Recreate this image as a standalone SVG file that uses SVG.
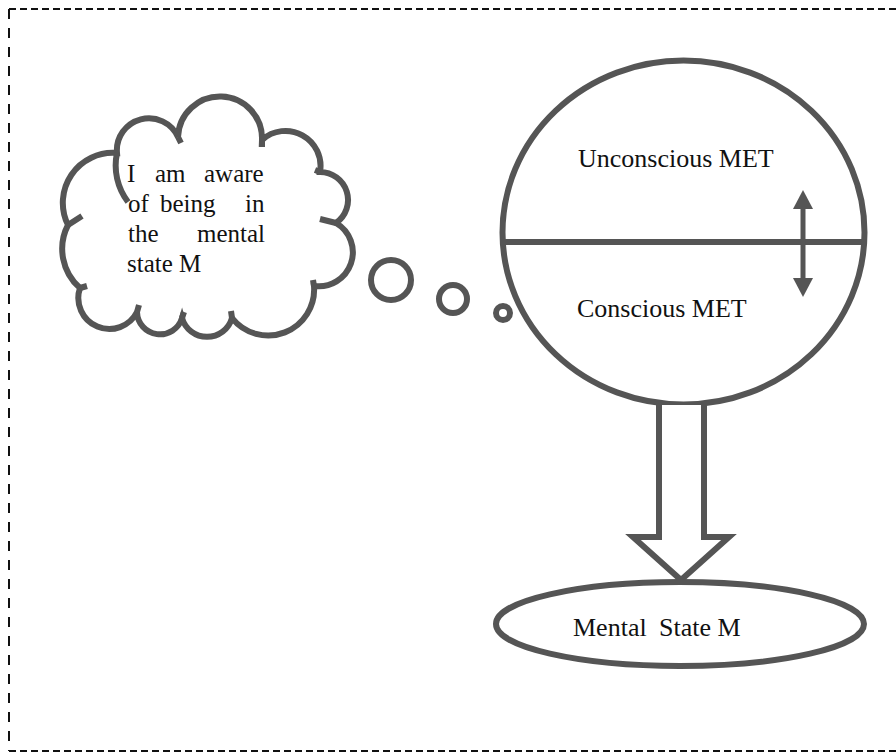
<svg xmlns="http://www.w3.org/2000/svg" width="896" height="755" viewBox="0 0 896 755">
<style>
.s{fill:#fff;stroke:#555;stroke-width:6}
.o{fill:none;stroke:#555;stroke-width:6}
.b{fill:none;stroke:#111;stroke-width:2}
.t{font-family:"Liberation Serif","Times New Roman",serif;font-size:26px;fill:#111}
.c{font-family:"Liberation Serif","Times New Roman",serif;font-size:25px;fill:#111}
</style>
<rect width="896" height="755" fill="#fff"/>
<g id="frame">
<line class="b" x1="9" y1="9" x2="896" y2="9" stroke-dasharray="7 4"/>
<line class="b" x1="9" y1="751" x2="896" y2="751" stroke-dasharray="7 4"/>
<line class="b" x1="9" y1="9" x2="9" y2="751" stroke-dasharray="10 9"/>
</g>
<g id="cloud">
<path class="s" d="M68 225 A50 50 0 0 1 117 153 A32 32 0 0 1 178 137 A42 42 0 0 1 262 140 A35 35 0 0 1 320 172 A28 28 0 0 1 336 223 A34 34 0 0 1 314 286 A46 46 0 0 1 232 318 A26 26 0 0 1 182 318 A23 23 0 0 1 137 312 A31 31 0 0 1 80 288 A52 52 0 0 1 68 225 Z"/>
<path class="o" d="M117 153 A60 60 0 0 0 128 202 M178 137 L181 143 M262 140 L262 147 M320 172 L315 170 M336 223 L320 219 M314 286 L313 280 M232 318 L231 311 M182 318 L184 312 M137 312 L139 305 M80 288 L87 286 M68 225 L82 216"/>
<text class="c"><tspan x="127" y="182">I</tspan><tspan x="155" y="182">am</tspan><tspan x="204" y="182">aware</tspan><tspan x="128" y="212">of</tspan><tspan x="160" y="212">being</tspan><tspan x="245" y="212">in</tspan><tspan x="128" y="242">the</tspan><tspan x="197" y="242">mental</tspan><tspan x="127" y="272">state M</tspan></text>
</g>
<g id="bubbles">
<circle class="o" cx="391" cy="280" r="20"/>
<circle class="o" cx="453" cy="299" r="14"/>
<circle class="o" cx="503" cy="313" r="7"/>
</g>
<g id="met">
<ellipse class="s" cx="683.5" cy="232.5" rx="181" ry="172"/>
<line class="o" x1="502" y1="242" x2="865" y2="242"/>
<text class="t" x="578" y="167">Unconscious MET</text>
<text class="t" x="577" y="317">Conscious MET</text>
</g>
<g id="connectors">
<line x1="803" y1="206" x2="803" y2="281" stroke="#555" stroke-width="5"/>
<polygon points="803,190 793,209 813,209" fill="#555"/>
<polygon points="803,297 793,278 813,278" fill="#555"/>
<path class="s" stroke-linejoin="miter" d="M659 405 L659 537 L633 537 L681 580 L729 537 L704 537 L704 405"/>
</g>
<g id="state">
<ellipse class="s" cx="680" cy="624" rx="184" ry="42"/>
<text class="t"><tspan x="573" y="636">Mental</tspan><tspan x="659" y="636">State M</tspan></text>
</g>
</svg>
